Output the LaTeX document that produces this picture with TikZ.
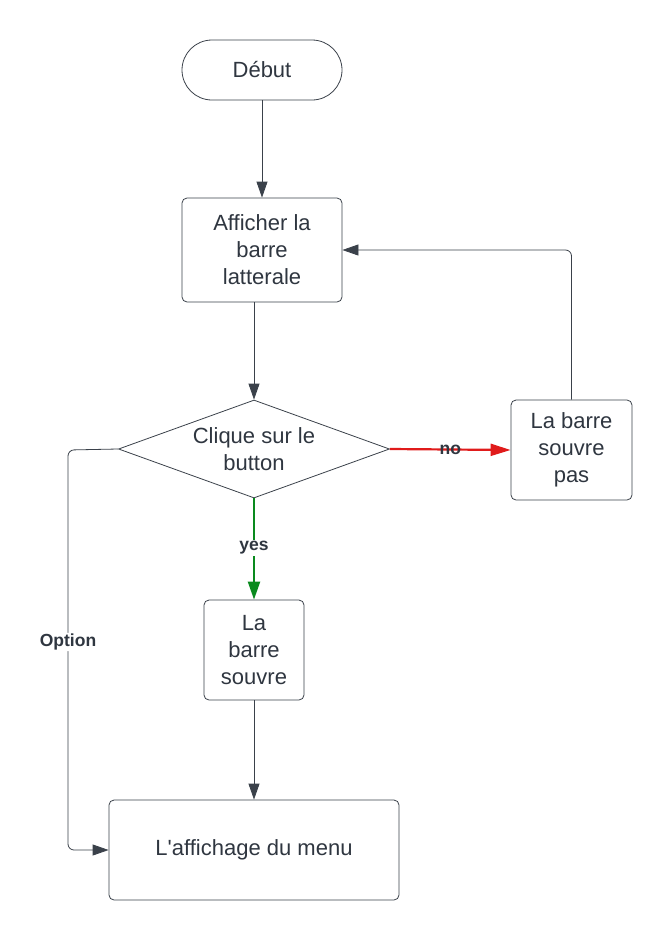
\documentclass[tikz,border=0pt]{standalone}
\usepackage{fontspec}
\setmainfont{Liberation Sans}[Ligatures=TeXOff]
\usetikzlibrary{shapes.geometric,arrows.meta}
\definecolor{ln}{HTML}{3A414A}
\definecolor{tx}{HTML}{2F3640}
\definecolor{rd}{HTML}{E01B1B}
\definecolor{gn}{HTML}{0A8A1E}
\tikzset{
  box/.style={draw=ln, line width=0.8pt, rounded corners=5pt, text=tx, align=center, font=\fontsize{22}{27}\selectfont, inner sep=0pt},
  conn/.style={draw=ln, line width=0.8pt, -{Triangle[length=16pt,width=11pt]}},
  lbl/.style={font=\bfseries\fontsize{17.5}{20}\selectfont, text=tx, fill=white, inner sep=1pt},
}
\begin{document}
\begin{tikzpicture}[x=1pt,y=-1pt]
\useasboundingbox (0,0) rectangle (672,940);
\node[box, rounded corners=30pt, minimum width=160pt, minimum height=60pt] (debut) at (262,70) {Début};
\node[box, minimum width=160pt, minimum height=104pt] (aff) at (262,250) {Afficher la\\barre\\latterale};
\node[diamond, aspect=2.75, draw=ln, line width=0.8pt, inner sep=0pt, minimum width=271pt, minimum height=98pt] (dec) at (254,449) {};
\node[text=tx, align=center, font=\fontsize{22}{27}\selectfont] (dect) at (254,449) {Clique sur le\\button};
\node[box, minimum width=121pt, minimum height=100pt] (pas) at (571.5,450) {La barre\\souvre\\pas};
\node[box, minimum width=100pt, minimum height=100pt] (ouv) at (254,650) {La\\barre\\souvre};
\node[box, minimum width=290pt, minimum height=100pt] (menu) at (254,850) {L'affichage du menu};

\draw[conn] (debut.south) -- (aff.north);
\draw[conn] (aff.south -| dec.north) -- (dec.north);
\draw[conn, draw=rd, fill=rd, line width=2.2pt, -{Triangle[length=20pt,width=12pt]}] (dec.east) -- node[lbl, fill=none, pos=0.5] {no} (pas.west);
\draw[conn, draw=gn, fill=gn, line width=2.2pt, -{Triangle[length=18pt,width=12pt]}] (dec.south) -- node[lbl, pos=0.49] {yes} (ouv.north);
\coordinate (c1) at (571.5,250);
\draw[conn, rounded corners=6pt] (pas.north) -- (c1) -- (aff.east);
\draw[conn] (ouv.south) -- (menu.north);
\coordinate (c2) at (68,450);
\coordinate (c3) at (68,850);
\draw[conn, rounded corners=6pt] (dec.west) -- (c2) -- node[lbl, pos=0.48] {Option} (c3) -- (menu.west);
\end{tikzpicture}
\end{document}
